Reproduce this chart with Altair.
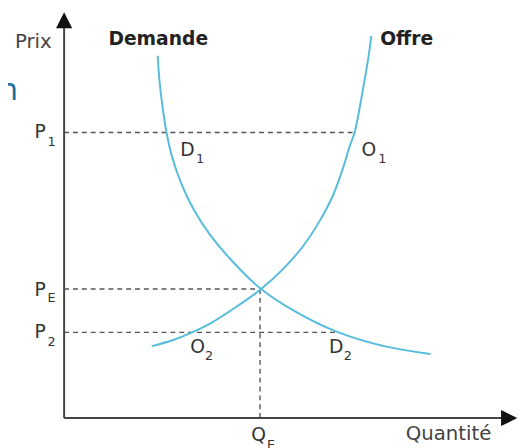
import altair as alt
import pandas as pd

# Coordinates: quantity (x) and price (y), origin at the axes corner
demand_q = [95, 97, 100, 104, 110, 119, 132, 149, 172, 200, 235, 276, 325, 372]
demand_p = [368, 341, 316, 290, 264, 238, 211, 185, 158, 131, 108, 88, 73, 65]

supply_q = [89, 110, 130, 150, 175, 200, 223, 243, 260, 273, 283, 290, 295, 303, 309, 312]
supply_p = [73, 79, 87, 97, 113, 131, 152, 175, 201, 226, 253, 276, 290, 331, 366, 388]

# guide (dashed) lines
guide_x = [0, 0, 0, 199]
guide_x2 = [295, 200, 276, 199]
guide_y = [290, 131, 87, 0]
guide_y2 = [290, 131, 87, 131]

# axes
axis_x = [0, 0]
axis_x2 = [0, 446]
axis_y = [0, 0]
axis_y2 = [397, 0]

# arrow heads
arrow_x = [0, 452]
arrow_y = [404, 0]
arrow_shape = ["M0,-1L-1,1L1,1Z", "M1,0L-1,-1L-1,1Z"]

# labels
main_text = ["P", "P", "P", "Q", "D", "O", "O", "D"]
main_x = [-30, -30, -30, 190, 118, 302, 128, 269]
main_y = [284, 124, 81, -23, 266, 266, 66, 66]
sub_text = ["1", "E", "2", "E", "1", "1", "2", "2"]
sub_x = [-17, -17, -17, 206, 134, 319, 143, 284]
sub_y = [276, 118, 73, -31, 259, 259, 59, 59]

axis_titles = ["Prix", "Quantité"]
axis_title_x = [-50, 347]
axis_title_y = [376, -22]

curve_titles = ["Demande", "Offre"]
curve_title_x = [45, 321]
curve_title_y = [379, 379]

xs = alt.Scale(domain=[-57, 463])
ys = alt.Scale(domain=[-27, 413])
X = lambda f: alt.X(f, type="quantitative", scale=xs, axis=None)
Y = lambda f: alt.Y(f, type="quantitative", scale=ys, axis=None)

curve_color = "#55bcdc"

demand = alt.Chart(pd.DataFrame({"q": demand_q, "p": demand_p})).mark_line(
    color=curve_color, strokeWidth=2, interpolate="catmull-rom"
).encode(x=X("q"), y=Y("p"), order="q:Q")

supply = alt.Chart(pd.DataFrame({"q": supply_q, "p": supply_p})).mark_line(
    color=curve_color, strokeWidth=2, interpolate="catmull-rom"
).encode(x=X("q"), y=Y("p"), order="q:Q")

guides = alt.Chart(pd.DataFrame({"x": guide_x, "x2": guide_x2, "y": guide_y, "y2": guide_y2})).mark_rule(
    color="#555555", strokeWidth=1.4, strokeDash=[5, 4]
).encode(x=X("x"), x2="x2", y=Y("y"), y2="y2")

axes = alt.Chart(pd.DataFrame({"x": axis_x, "x2": axis_x2, "y": axis_y, "y2": axis_y2})).mark_rule(
    color="#444444", strokeWidth=2
).encode(x=X("x"), x2="x2", y=Y("y"), y2="y2")

arrows = alt.Chart(pd.DataFrame({"x": arrow_x, "y": arrow_y, "s": arrow_shape})).mark_point(
    filled=True, color="#111111", opacity=1, size=270, strokeWidth=0
).encode(x=X("x"), y=Y("y"), shape=alt.Shape("s:N", scale=None, legend=None))

main_labels = alt.Chart(pd.DataFrame({"t": main_text, "x": main_x, "y": main_y})).mark_text(
    align="left", baseline="alphabetic", font="DejaVu Sans", fontSize=19, color="#333333"
).encode(x=X("x"), y=Y("y"), text="t:N")

sub_labels = alt.Chart(pd.DataFrame({"t": sub_text, "x": sub_x, "y": sub_y})).mark_text(
    align="left", baseline="alphabetic", font="DejaVu Sans", fontSize=13, color="#333333"
).encode(x=X("x"), y=Y("y"), text="t:N")

axis_labels = alt.Chart(pd.DataFrame({"t": axis_titles, "x": axis_title_x, "y": axis_title_y})).mark_text(
    align="left", baseline="alphabetic", font="DejaVu Sans", fontSize=20, color="#444444"
).encode(x=X("x"), y=Y("y"), text="t:N")

curve_labels = alt.Chart(pd.DataFrame({"t": curve_titles, "x": curve_title_x, "y": curve_title_y})).mark_text(
    align="left", baseline="alphabetic", font="DejaVu Sans", fontSize=19, fontWeight="bold", color="#222222"
).encode(x=X("x"), y=Y("y"), text="t:N")

stray = alt.Chart(pd.DataFrame({"t": ["n"], "x": [-47], "y": [323]})).mark_text(
    align="right", baseline="alphabetic", font="DejaVu Sans", fontSize=30, color="#1b6d9e"
).encode(x=X("x"), y=Y("y"), text="t:N")

chart = alt.layer(
    guides, axes, demand, supply, arrows, main_labels, sub_labels, axis_labels, curve_labels, stray
).properties(
    width=520, height=440, padding=0, autosize=alt.AutoSizeParams(type="none")
).configure_view(stroke=None)

chart.save("out.html", embed_options={"renderer": "svg", "actions": False})
